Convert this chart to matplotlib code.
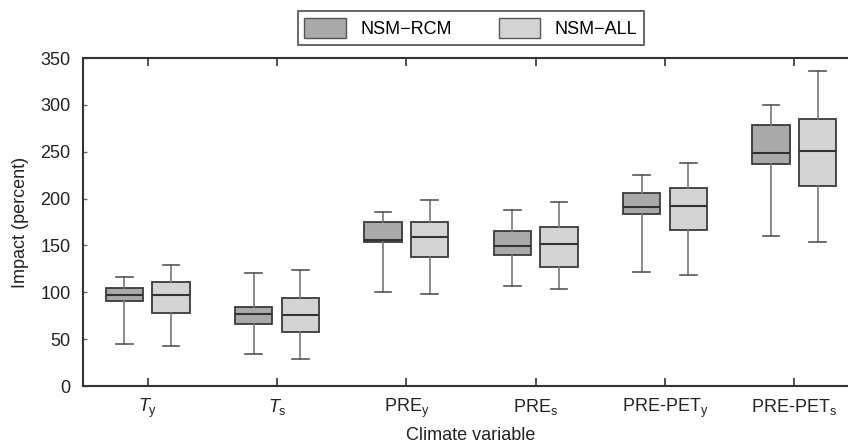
import numpy as np
import matplotlib
matplotlib.use("Agg")
import matplotlib.pyplot as plt
from matplotlib.patches import Patch

plt.rcParams["font.family"] = ["Liberation Sans", "DejaVu Sans"]
plt.rcParams["mathtext.fontset"] = "custom"
plt.rcParams["mathtext.rm"] = "Liberation Sans"
plt.rcParams["mathtext.it"] = "Liberation Sans:italic"

# climate variables on the x axis
labels = [r"$T_\mathrm{y}$", r"$T_\mathrm{s}$", r"PRE$_\mathrm{y}$", r"PRE$_\mathrm{s}$",
          r"PRE-PET$_\mathrm{y}$", r"PRE-PET$_\mathrm{s}$"]

# five-number summaries: low whisker, q1, median, q3, high whisker
rcm_low = [44.5, 34.6, 99.8, 106.2, 121.9, 160.0]
rcm_q1 = [90.4, 66.3, 153.3, 140.0, 183.2, 237.3]
rcm_med = [96.8, 76.6, 155.4, 149.7, 191.4, 248.8]
rcm_q3 = [105.0, 83.8, 175.0, 165.7, 206.3, 278.7]
rcm_high = [116.0, 120.8, 185.4, 188.2, 225.6, 299.4]

all_low = [42.8, 28.9, 97.7, 103.7, 118.0, 154.0]
all_q1 = [77.4, 57.4, 137.6, 127.2, 166.5, 213.8]
all_med = [97.0, 75.6, 159.0, 151.2, 192.4, 251.2]
all_q3 = [110.9, 93.4, 175.3, 169.7, 211.7, 284.4]
all_high = [128.7, 123.7, 198.2, 196.0, 237.7, 335.7]

C_RCM = "#a9a9a9"
C_ALL = "#d4d4d4"


def stats(low, q1, med, q3, high):
    return [dict(whislo=a, q1=b, med=c, q3=d, whishi=e, fliers=[])
            for a, b, c, d, e in zip(low, q1, med, q3, high)]


fig = plt.figure(figsize=(8.48, 4.48), dpi=100)
ax = fig.add_axes([83 / 848, 62 / 448, 776 / 848, 328 / 448])

x = np.arange(len(labels))
off, w = 0.18, 0.29
for st, pos, col in [(stats(rcm_low, rcm_q1, rcm_med, rcm_q3, rcm_high), x - off, C_RCM),
                     (stats(all_low, all_q1, all_med, all_q3, all_high), x + off, C_ALL)]:
    ax.bxp(st, positions=pos, widths=w, patch_artist=True, showfliers=False,
           boxprops=dict(facecolor=col, edgecolor="#3a3a3a", lw=1.3),
           medianprops=dict(color="#333333", lw=1.5),
           whiskerprops=dict(color="#777777", lw=1.2),
           capprops=dict(color="#555555", lw=1.2),
           capwidths=w * 0.45)

ax.set_xlim(-0.5, 5.5)
ax.set_ylim(0, 350)
ax.set_yticks(range(0, 351, 50))
ax.set_xticks(x, labels)
ax.tick_params(axis="x", direction="in", top=True, length=6, width=1.2,
               labelsize=13, colors="#333333", labelcolor="#222222", pad=8)
ax.tick_params(axis="y", direction="in", length=3, width=1, colors="#666666",
               labelsize=13, labelcolor="#222222", pad=9)
for s in ax.spines.values():
    s.set_linewidth(1.5)
    s.set_color("#333333")
ax.set_xlabel("Climate variable", fontsize=13, color="#222222", labelpad=5)
ax.set_ylabel("Impact (percent)", fontsize=13, color="#222222", labelpad=8)

handles = [Patch(facecolor=C_RCM, edgecolor="#555555", label="NSM\u2212RCM"),
           Patch(facecolor=C_ALL, edgecolor="#555555", label="NSM\u2212ALL")]
leg = fig.legend(handles=handles, ncol=2, loc="center", bbox_to_anchor=(471 / 848, 1 - 28 / 448),
                 fontsize=13, frameon=True, fancybox=False, edgecolor="#333333",
                 handlelength=2.3, handleheight=1.4, columnspacing=2.6, borderpad=0.35)
leg.get_frame().set_linewidth(1.3)

fig.savefig("out.png", dpi=100)
